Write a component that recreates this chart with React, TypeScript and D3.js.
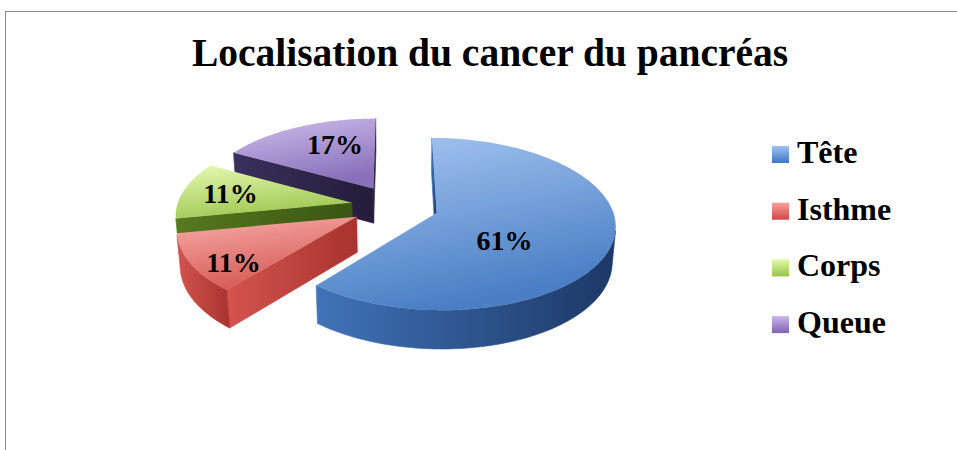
import React from "react";
import * as d3 from "d3";

const categories = ["Tête", "Isthme", "Corps", "Queue"];
const values = [61, 11, 11, 17];
const labels = ["61%", "11%", "11%", "17%"];
const title = "Localisation du cancer du pancréas";

const topColors = [
  ["#a9c8f3", "#4a7fc5"],
  ["#f7aeab", "#d65953"],
  ["#e6fab4", "#a0c853"],
  ["#cfc0ec", "#8a70bb"],
];
const sideColors = [
  ["#4073b8", "#1c3866"],
  ["#d4544e", "#a9332f"],
  ["#58791f", "#3a5512"],
  ["#3b305e", "#241c39"],
];
const legendColors = [
  ["#9dc3f7", "#3f75c2"],
  ["#fb9f9c", "#cf4744"],
  ["#e2fba8", "#97c34a"],
  ["#cbb6ee", "#7f62b0"],
];
const labelNudge = [
  [12, 18],
  [-17, 16],
  [-11, -1],
  [12, -4],
];

// projection parameters
const W = 957;
const H = 450;
const ELEV = (28.3 * Math.PI) / 180;
const DIST = 7;
const SCALE = 175;
const CX = 395;
const CY = 206;
const EXPLODE = 0.25;
const DEPTH = 0.232;

type P3 = [number, number, number];

function project(p: P3): [number, number, number] {
  const [u, v, h] = p;
  const yc = v * Math.sin(ELEV) - h * Math.cos(ELEV);
  const zc = DIST - v * Math.cos(ELEV) - h * Math.sin(ELEV);
  const K = SCALE * DIST;
  return [CX + (K * u) / zc, CY + (K * yc) / zc, zc];
}

const cam: P3 = [0, DIST * Math.cos(ELEV), DIST * Math.sin(ELEV)];

function visible(n: [number, number], p: P3) {
  return n[0] * (cam[0] - p[0]) + n[1] * (cam[1] - p[1]) > 0;
}

const line = d3.line<[number, number]>().x((d) => d[0]).y((d) => d[1]);

function polyPath(pts: P3[]) {
  const pr = pts.map((p) => {
    const q = project(p);
    return [q[0], q[1]] as [number, number];
  });
  return line(pr) + "Z";
}

function meanZ(pts: P3[]) {
  return d3.mean(pts, (p) => project(p)[2]) as number;
}

export default function App() {
  const pie = d3
    .pie<number>()
    .sort(null)
    .startAngle(0)
    .endAngle(2 * Math.PI)(values);

  const sideFaces: { d: string; z: number; i: number }[] = [];
  const topFaces: { d: string; i: number }[] = [];
  const labelPos: [number, number][] = [];

  pie.forEach((arc, i) => {
    const a0 = arc.startAngle;
    const a1 = arc.endAngle;
    const mid = (a0 + a1) / 2;
    const ou = EXPLODE * Math.sin(mid);
    const ov = -EXPLODE * Math.cos(mid);
    const pt = (t: number, r: number, h: number): P3 => [
      ou + r * Math.sin(t),
      ov - r * Math.cos(t),
      h,
    ];
    const N = Math.max(8, Math.ceil(((a1 - a0) / (2 * Math.PI)) * 240));
    const angles = d3.range(N + 1).map((k) => a0 + ((a1 - a0) * k) / N);

    const topPts: P3[] = [pt(0, 0, 0), ...angles.map((t) => pt(t, 1, 0))];
    topFaces.push({ d: polyPath(topPts), i });

    let run: number[] = [];
    const flush = () => {
      if (run.length > 1) {
        const tops = run.map((t) => pt(t, 1, 0));
        const bots = run.map((t) => pt(t, 1, -DEPTH)).reverse();
        const pts = [...tops, ...bots];
        sideFaces.push({ d: polyPath(pts), z: meanZ(pts), i });
      }
      run = [];
    };
    for (let k = 0; k < N; k++) {
      const tm = (angles[k] + angles[k + 1]) / 2;
      const vis = visible([Math.sin(tm), -Math.cos(tm)], pt(tm, 1, 0));
      if (vis) {
        if (run.length === 0) run.push(angles[k]);
        run.push(angles[k + 1]);
      } else flush();
    }
    flush();

    const radial = (t: number, n: [number, number]) => {
      const apex = pt(0, 0, 0);
      if (!visible(n, apex)) return;
      const pts = [pt(0, 0, 0), pt(t, 1, 0), pt(t, 1, -DEPTH), pt(0, 0, -DEPTH)];
      sideFaces.push({ d: polyPath(pts), z: meanZ(pts), i });
    };
    radial(a0, [-Math.cos(a0), -Math.sin(a0)]);
    radial(a1, [Math.cos(a1), Math.sin(a1)]);

    const alpha = a1 - a0;
    const rc = (4 * Math.sin(alpha / 2)) / (3 * alpha);
    const lp = project(pt(mid, rc, 0));
    labelPos.push([lp[0] + labelNudge[i][0], lp[1] + labelNudge[i][1]]);
  });

  sideFaces.sort((a, b) => b.z - a.z);

  const font = "'Liberation Serif', 'Times New Roman', serif";

  return (
    <div style={{ position: "fixed", left: 0, top: 0 }}>
      <svg width={W} height={H} style={{ display: "block", background: "#fff" }}>
        <defs>
          {categories.map((_, i) => (
            <React.Fragment key={i}>
              <linearGradient id={`top${i}`} x1="0" y1="0" x2="0.35" y2="1">
                <stop offset="0" stopColor={topColors[i][0]} />
                <stop offset="1" stopColor={topColors[i][1]} />
              </linearGradient>
              <linearGradient id={`side${i}`} x1="0" y1="0" x2="1" y2="0">
                <stop offset="0" stopColor={sideColors[i][0]} />
                <stop offset="1" stopColor={sideColors[i][1]} />
              </linearGradient>
              <linearGradient id={`leg${i}`} x1="0" y1="0" x2="0" y2="1">
                <stop offset="0" stopColor={legendColors[i][0]} />
                <stop offset="1" stopColor={legendColors[i][1]} />
              </linearGradient>
            </React.Fragment>
          ))}
        </defs>
        <rect x={5.5} y={11.5} width={W + 10} height={H + 10} fill="#fff" stroke="#8a8a8a" strokeWidth={1} />
        <text
          x={490}
          y={66}
          textAnchor="middle"
          fontFamily={font}
          fontWeight="bold"
          fontSize={39.5}
          fill="#000"
        >
          {title}
        </text>
        <g>
          {sideFaces.map((f, k) => (
            <path key={`s${k}`} d={f.d} fill={`url(#side${f.i})`} stroke={`url(#side${f.i})`} strokeWidth={0.6} />
          ))}
          {topFaces.map((f, k) => (
            <path key={`t${k}`} d={f.d} fill={`url(#top${f.i})`} />
          ))}
        </g>
        <g fontFamily={font} fontWeight="bold" fontSize={28} fill="#000" textAnchor="middle">
          {labels.map((l, i) => (
            <text key={i} x={labelPos[i][0]} y={labelPos[i][1]} dy="0.35em">
              {l}
            </text>
          ))}
        </g>
        <g fontFamily={font} fontWeight="bold" fontSize={32} fill="#000">
          {categories.map((c, i) => (
            <g key={c} transform={`translate(772, ${146 + i * 56.7})`}>
              <rect x={0} y={0} width={17} height={17} fill={`url(#leg${i})`} />
              <text x={25} y={17}>
                {c}
              </text>
            </g>
          ))}
        </g>
      </svg>
    </div>
  );
}
